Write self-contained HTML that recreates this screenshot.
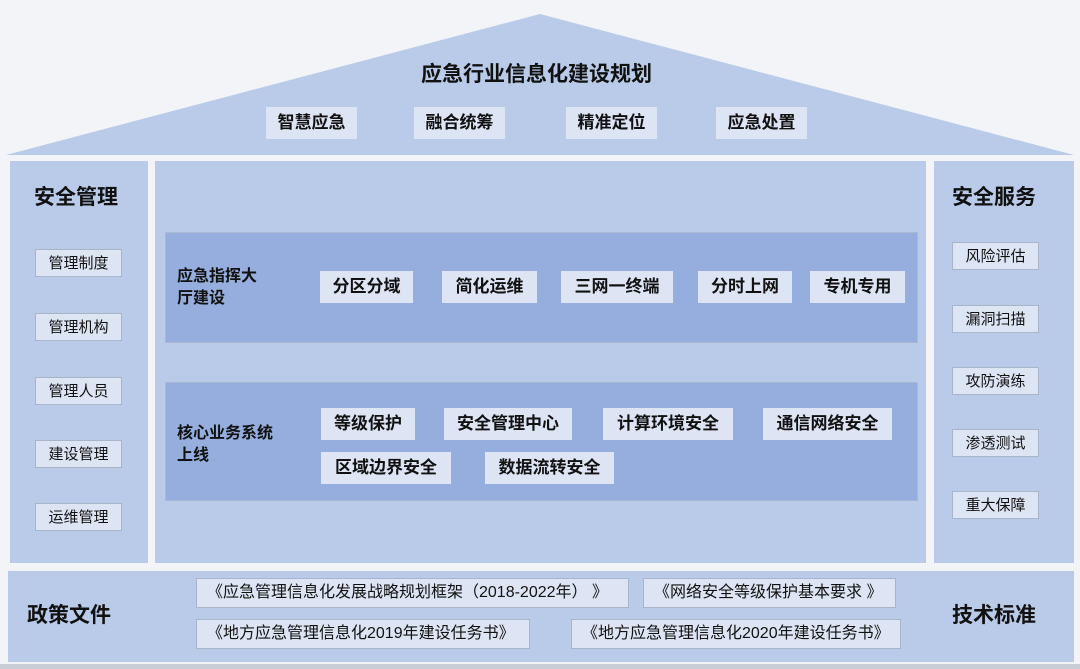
<!DOCTYPE html>
<html><head><meta charset="utf-8"><style>
body{margin:0;width:1080px;height:669px;background:#f3f4f8;position:relative;overflow:hidden;font-family:"Liberation Sans","Noto Sans CJK SC",sans-serif;color:#111}
.a{position:absolute}
.p{background:#b9cbe8}
.band{background:#95aedd;border:1px solid #a9b8d4}
.b{position:absolute;background:#dde5f4;font-weight:bold;font-size:17px;text-align:center;line-height:32px;height:32px}
.s{position:absolute;background:#dde5f4;border:1px solid #a8b4c8;font-size:15px;text-align:center;line-height:28px;height:28px;box-sizing:border-box}
.d{position:absolute;background:#dde5f4;border:1px solid #a8b4c8;font-size:16px;line-height:28px;height:30px;box-sizing:border-box;padding-left:10px}
.t{position:absolute;font-weight:bold;font-size:21px}
.h{position:absolute;font-weight:bold;font-size:16px;line-height:22px}
</style></head><body>
<svg class="a" style="left:0;top:0" width="1080" height="160"><polygon points="6,155 540,14 1074,155" fill="#b9cbe8"/></svg>
<div class="t" style="left:421px;top:58px;font-size:21px">应急行业信息化建设规划</div>
<div class="b" style="left:266px;top:107px;width:91px">智慧应急</div>
<div class="b" style="left:414px;top:107px;width:91px">融合统筹</div>
<div class="b" style="left:566px;top:107px;width:91px">精准定位</div>
<div class="b" style="left:716px;top:107px;width:91px">应急处置</div>

<div class="a p" style="left:10px;top:161px;width:138px;height:402px"></div>
<div class="a p" style="left:155px;top:161px;width:771px;height:402px"></div>
<div class="a p" style="left:934px;top:161px;width:140px;height:402px"></div>
<div class="a p" style="left:8px;top:571px;width:1066px;height:91px"></div>
<div class="a" style="left:0;top:664px;width:1080px;height:5px;background:#c9cdd6"></div>

<div class="t" style="left:34px;top:181px">安全管理</div>
<div class="s" style="left:35px;top:249px;width:87px">管理制度</div>
<div class="s" style="left:35px;top:313px;width:87px">管理机构</div>
<div class="s" style="left:35px;top:377px;width:87px">管理人员</div>
<div class="s" style="left:35px;top:440px;width:87px">建设管理</div>
<div class="s" style="left:35px;top:503px;width:87px">运维管理</div>

<div class="t" style="left:952px;top:181px">安全服务</div>
<div class="s" style="left:952px;top:242px;width:87px">风险评估</div>
<div class="s" style="left:952px;top:305px;width:87px">漏洞扫描</div>
<div class="s" style="left:952px;top:367px;width:87px">攻防演练</div>
<div class="s" style="left:952px;top:429px;width:87px">渗透测试</div>
<div class="s" style="left:952px;top:491px;width:87px">重大保障</div>

<div class="a band" style="left:165px;top:232px;width:751px;height:109px"></div>
<div class="h" style="left:177px;top:266px">应急指挥大<br>厅建设</div>
<div class="b" style="left:320px;top:271px;width:93px">分区分域</div>
<div class="b" style="left:442px;top:271px;width:95px">简化运维</div>
<div class="b" style="left:561px;top:271px;width:112px">三网一终端</div>
<div class="b" style="left:698px;top:271px;width:94px">分时上网</div>
<div class="b" style="left:810px;top:271px;width:95px">专机专用</div>

<div class="a band" style="left:165px;top:382px;width:751px;height:117px"></div>
<div class="h" style="left:177px;top:423px">核心业务系统<br>上线</div>
<div class="b" style="left:321px;top:408px;width:94px">等级保护</div>
<div class="b" style="left:444px;top:408px;width:128px">安全管理中心</div>
<div class="b" style="left:603px;top:408px;width:130px">计算环境安全</div>
<div class="b" style="left:763px;top:408px;width:129px">通信网络安全</div>
<div class="b" style="left:321px;top:452px;width:130px">区域边界安全</div>
<div class="b" style="left:485px;top:452px;width:129px">数据流转安全</div>

<div class="t" style="left:27px;top:599px">政策文件</div>
<div class="t" style="left:952px;top:599px">技术标准</div>
<div class="d" style="left:196px;top:578px;width:433px">《应急管理信息化发展战略规划框架（2018-2022年） 》</div>
<div class="d" style="left:643px;top:578px;width:253px">《网络安全等级保护基本要求 》</div>
<div class="d" style="left:196px;top:619px;width:334px">《地方应急管理信息化2019年建设任务书》</div>
<div class="d" style="left:571px;top:619px;width:330px">《地方应急管理信息化2020年建设任务书》</div>
</body></html>
